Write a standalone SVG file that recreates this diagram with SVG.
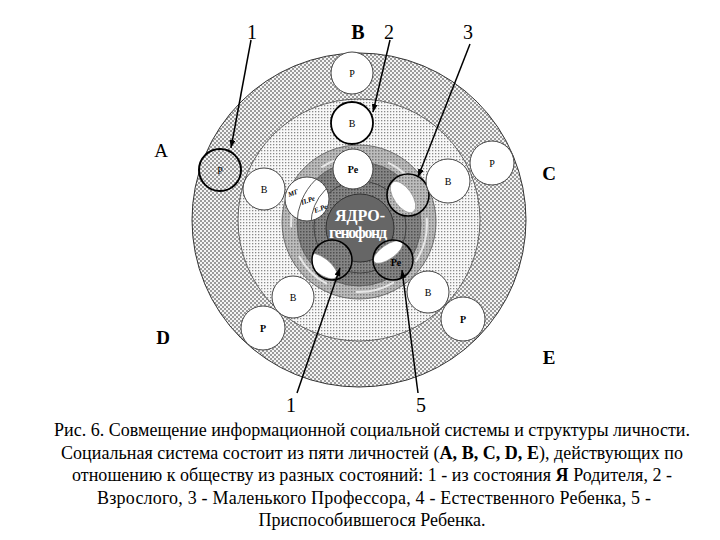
<svg xmlns="http://www.w3.org/2000/svg" width="720" height="540" viewBox="0 0 720 540">
<style>
.lbl{font-family:"Liberation Serif","DejaVu Serif","Noto Serif","Times New Roman",serif;fill:#000}
.num{font-size:20px}
.big{font-size:19px}
.bold{font-weight:bold}
.cap{font-family:"Liberation Serif","DejaVu Serif","Noto Serif","Times New Roman",serif;font-size:18px;fill:#000;text-anchor:middle}
.node{fill:#fff;stroke:#444;stroke-width:1}
.thick{stroke:#000;stroke-width:1.8}
.nt{font-family:"Liberation Serif","DejaVu Serif","Times New Roman",serif;font-size:10px;text-anchor:middle;fill:#000}
.small{font-family:"Liberation Serif","DejaVu Serif","Times New Roman",serif;font-size:7px;font-style:italic;font-weight:bold;fill:#000}
.core{font-family:"Liberation Serif","DejaVu Serif","Times New Roman",serif;font-weight:bold;font-size:16px;fill:#fff;text-anchor:middle}
.conn{stroke:#000;stroke-width:1.5;fill:none;marker-end:url(#arr)}
</style>
<defs>
<pattern id="pOuter" width="4" height="4" patternUnits="userSpaceOnUse">
<rect width="4" height="4" fill="#f4f4f4"/>
<rect x="0" y="0" width="2" height="2" fill="#9a9a9a"/>
<rect x="2" y="2" width="2" height="2" fill="#9a9a9a"/>
</pattern>
<pattern id="pMid" width="3" height="3" patternUnits="userSpaceOnUse">
<rect width="3" height="3" fill="#f8f8f8"/>
<rect x="0" y="0" width="1.3" height="1.3" fill="#8a8a8a"/>
</pattern>
<pattern id="pGray" width="3" height="3" patternUnits="userSpaceOnUse">
<rect width="3" height="3" fill="#bcbcbc"/>
<rect x="0" y="0" width="1.5" height="1.5" fill="#7c7c7c"/>
</pattern>
<pattern id="pDark" width="3" height="3" patternUnits="userSpaceOnUse">
<rect width="3" height="3" fill="#858585"/>
<rect x="0" y="0" width="1.5" height="1.5" fill="#505050"/>
</pattern>
<marker id="arr" viewBox="0 0 8 6" refX="8" refY="3" markerWidth="8" markerHeight="6" markerUnits="userSpaceOnUse" orient="auto">
<path d="M0,0 L8,3 L0,6 z" fill="#000"/>
</marker>
<clipPath id="lensClip"><circle cx="307" cy="199" r="22"/></clipPath>
<clipPath id="cClip"><circle cx="408" cy="195" r="21"/></clipPath>
<clipPath id="dClip"><circle cx="332" cy="260" r="20"/></clipPath>
<clipPath id="eClip"><circle cx="393" cy="260" r="20"/></clipPath>
</defs>
<rect width="720" height="540" fill="#fff"/>

<g id="rings">
<circle cx="359" cy="220" r="167" fill="url(#pOuter)" stroke="#333" stroke-width="1"/>
<circle cx="359" cy="220" r="121" fill="url(#pMid)" stroke="#444" stroke-width="0.8"/>
<circle cx="359" cy="222" r="77" fill="url(#pGray)" stroke="#555" stroke-width="0.8"/>
<circle cx="359" cy="224" r="62" fill="url(#pDark)" stroke="#555" stroke-width="0.8"/>
<circle cx="359" cy="224" r="68" fill="none" stroke="#e6e6e6" stroke-width="2" stroke-dasharray="40 30"/>
<circle cx="360" cy="227" r="46" fill="none" stroke="#333" stroke-width="0.8"/>
<circle cx="360" cy="228" r="34" fill="#666" stroke="#333" stroke-width="1"/>
</g>

<g id="core">
<text class="core" x="360" y="221">ЯДРО-</text>
<text class="core" x="358" y="238" textLength="58">генофонд</text>
</g>

<g id="nodeB-P"><circle class="node" cx="352" cy="73" r="21"/><text class="nt" x="352" y="77">Р</text></g>
<g id="nodeB-B"><circle class="node thick" cx="352" cy="123" r="21"/><text class="nt" x="352" y="127">В</text></g>
<g id="nodeB-Pe"><circle class="node" cx="353" cy="169" r="20"/><text class="nt bold" x="353" y="173">Ре</text></g>

<g id="nodeA-P"><circle cx="220" cy="170" r="21" fill="url(#pOuter)" stroke="#000" stroke-width="2"/><text class="nt" x="220" y="174">Р</text></g>
<g id="nodeA-B"><circle class="node" cx="264" cy="189" r="21"/><text class="nt" x="264" y="193">В</text></g>
<g id="nodeA-Pe">
<circle cx="307" cy="199" r="22" fill="#fff" stroke="#444" stroke-width="1"/>
<g clip-path="url(#lensClip)" fill="none" stroke="#444" stroke-width="0.9">
<circle cx="359" cy="224" r="62"/>
<circle cx="359" cy="224" r="48"/>
</g>
<text class="small" x="289" y="197" transform="rotate(-20 289 197)">МГ</text>
<text class="small" x="302" y="205" transform="rotate(-20 302 205)">П.Ре</text>
<text class="small" x="315" y="213" transform="rotate(-20 315 213)">Е.Ре</text>
</g>

<g id="nodeC-Pe">
<circle cx="408" cy="195" r="21" fill="url(#pGray)"/>
<g clip-path="url(#cClip)"><ellipse cx="403" cy="197" rx="18" ry="9" transform="rotate(55 403 197)" fill="#fff" stroke="#888" stroke-width="0.6"/></g>
<circle cx="408" cy="195" r="21" fill="none" stroke="#000" stroke-width="1.6"/>
</g>
<g id="nodeC-B"><circle class="node" cx="448" cy="181" r="22"/><text class="nt" x="448" y="185">В</text></g>
<g id="nodeC-P"><circle class="node" cx="492" cy="163" r="22"/><text class="nt" x="492" y="167">Р</text></g>

<g id="nodeD-Pe">
<circle cx="332" cy="260" r="20" fill="url(#pDark)"/>
<g clip-path="url(#dClip)"><ellipse cx="322" cy="266" rx="18" ry="8" transform="rotate(38 322 266)" fill="#fff" stroke="#888" stroke-width="0.6"/></g>
<circle cx="332" cy="260" r="20" fill="none" stroke="#000" stroke-width="1.5"/>
</g>
<g id="nodeD-B"><circle class="node" cx="293" cy="297" r="21"/><text class="nt" x="293" y="301">В</text></g>
<g id="nodeD-P"><circle class="node" cx="263" cy="328" r="22"/><text class="nt bold" x="263" y="332">Р</text></g>

<g id="nodeE-Pe">
<circle cx="393" cy="260" r="20" fill="url(#pDark)"/>
<g clip-path="url(#eClip)"><ellipse cx="388" cy="252" rx="17" ry="7" transform="rotate(-35 388 252)" fill="#fff" stroke="#888" stroke-width="0.6"/></g>
<circle cx="393" cy="260" r="20" fill="none" stroke="#000" stroke-width="1.5"/>
<text class="nt bold" x="396" y="266">Ре</text>
</g>
<g id="nodeE-B"><circle class="node" cx="428" cy="292" r="21"/><text class="nt" x="428" y="296">В</text></g>
<g id="nodeE-P"><circle class="node" cx="463" cy="319" r="22"/><text class="nt bold" x="463" y="323">Р</text></g>

<g id="connectors">
<line class="conn" x1="251" y1="40" x2="231" y2="148"/>
<line class="conn" x1="390" y1="40" x2="373" y2="112"/>
<line class="conn" x1="470" y1="44" x2="418" y2="177"/>
<line class="conn" x1="297" y1="393" x2="340" y2="268"/>
<line class="conn" x1="418" y1="393" x2="402" y2="270"/>
</g>

<g id="labels">
<text class="lbl num" x="252" y="39" text-anchor="middle">1</text>
<text class="lbl num bold" x="358" y="39" text-anchor="middle">B</text>
<text class="lbl num" x="389" y="39" text-anchor="middle">2</text>
<text class="lbl num" x="468" y="39" text-anchor="middle">3</text>
<text class="lbl num" x="291" y="412" text-anchor="middle">1</text>
<text class="lbl num" x="421" y="412" text-anchor="middle">5</text>
<text class="lbl big" x="161" y="157" text-anchor="middle">A</text>
<text class="lbl big bold" x="549" y="180" text-anchor="middle">C</text>
<text class="lbl big bold" x="163" y="344" text-anchor="middle">D</text>
<text class="lbl big bold" x="549" y="364" text-anchor="middle">E</text>
</g>

<g id="caption">
<text class="cap" x="372" y="436" textLength="636">Рис. 6. Совмещение информационной социальной системы и структуры личности.</text>
<text class="cap" x="372" y="459" textLength="622">Социальная система состоит из пяти личностей (<tspan font-weight="bold">A, B, C, D, E</tspan>), действующих по</text>
<text class="cap" x="372" y="481" textLength="600">отношению к обществу из разных состояний: 1 - из состояния <tspan font-weight="bold">Я</tspan> Родителя, 2 -</text>
<text class="cap" x="374" y="504" textLength="554">Взрослого, 3 - Маленького Профессора, 4 - Естественного Ребенка, 5 -</text>
<text class="cap" x="372" y="526" textLength="227">Приспособившегося Ребенка.</text>
</g>
</svg>
